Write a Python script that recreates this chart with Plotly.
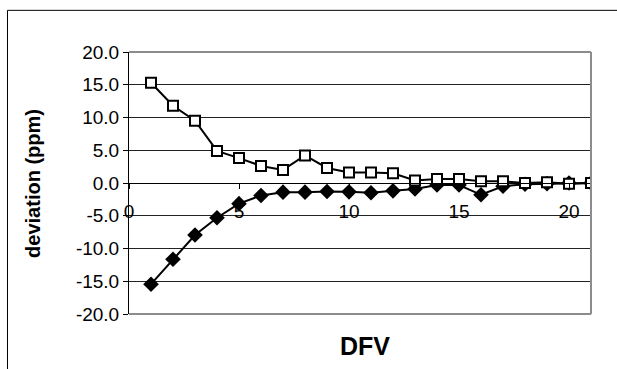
import plotly.graph_objects as go

dfv = list(range(1, 22))
upper = [15.3, 11.8, 9.5, 4.9, 3.8, 2.6, 2.0, 4.2, 2.3, 1.6, 1.6, 1.5, 0.4, 0.6, 0.6,
         0.25, 0.25, 0.0, 0.1, -0.1, 0.0]
lower = [-15.45, -11.65, -7.95, -5.3, -3.15, -1.9, -1.4, -1.4, -1.3, -1.35, -1.5, -1.2,
         -0.9, -0.3, -0.3, -1.8, -0.5, -0.2, -0.1, 0.0, 0.0]
y_ticks = [-20, -15, -10, -5, 0, 5, 10, 15, 20]
y_tick_text = ["%.1f" % v for v in y_ticks]
x_ticks = [0, 5, 10, 15, 20]

FONT = "Liberation Sans, Arial, sans-serif"

fig = go.Figure()
fig.add_trace(go.Scatter(
    x=dfv, y=lower, mode="lines+markers",
    line=dict(color="black", width=2),
    marker=dict(symbol="diamond", size=12, color="black"),
    showlegend=False))
fig.add_trace(go.Scatter(
    x=dfv, y=upper, mode="lines+markers",
    line=dict(color="black", width=2),
    marker=dict(symbol="square", size=10, color="white", line=dict(color="black", width=2)),
    showlegend=False))

fig.update_layout(
    width=617, height=369,
    margin=dict(l=129, r=26, t=52, b=55),
    paper_bgcolor="white", plot_bgcolor="white",
    font=dict(family=FONT, size=19, color="black"),
    xaxis=dict(range=[0, 21], tickvals=x_ticks, ticks="outside", ticklen=5,
               tickcolor="black", showline=True, linecolor="black", linewidth=1,
               showgrid=False, zeroline=False, anchor="free", position=0.5,
               ticklabelstandoff=6, tickfont=dict(size=19)),
    yaxis=dict(range=[-20, 20], tickvals=y_ticks, ticktext=y_tick_text,
               ticks="outside", ticklen=5, tickcolor="black",
               showline=True, linecolor="black", linewidth=1,
               showgrid=True, gridcolor="#222222", gridwidth=1, zeroline=False,
               tickfont=dict(size=19)),
    shapes=[
        # outer chart frame: top and left edges (others lie outside the picture)
        dict(type="line", xref="paper", yref="paper", x0=-0.263, x1=1.2, y0=1.159, y1=1.159,
             line=dict(color="black", width=1)),
        dict(type="line", xref="paper", yref="paper", x0=-0.263, x1=-0.263, y0=-0.3, y1=1.159,
             line=dict(color="black", width=1)),
        # plot area frame (gray)
        dict(type="line", xref="paper", yref="paper", x0=0, x1=1, y0=1, y1=1,
             line=dict(color="#8c8c8c", width=2)),
        dict(type="line", xref="paper", yref="paper", x0=1, x1=1, y0=0, y1=1,
             line=dict(color="#8c8c8c", width=2)),
        dict(type="line", xref="paper", yref="paper", x0=0, x1=1, y0=0, y1=0,
             line=dict(color="#8c8c8c", width=2)),
    ],
    annotations=[
        dict(text="<b>deviation (ppm)</b>", xref="paper", yref="paper", x=-0.208, y=0.5,
             textangle=-90, showarrow=False, font=dict(size=20, family=FONT),
             xanchor="center", yanchor="middle"),
        dict(text="<b>DFV</b>", xref="paper", yref="paper", x=0.51, y=-0.122,
             showarrow=False, font=dict(size=25, family=FONT),
             xanchor="center", yanchor="middle"),
    ],
)

fig.write_html("out.html")
